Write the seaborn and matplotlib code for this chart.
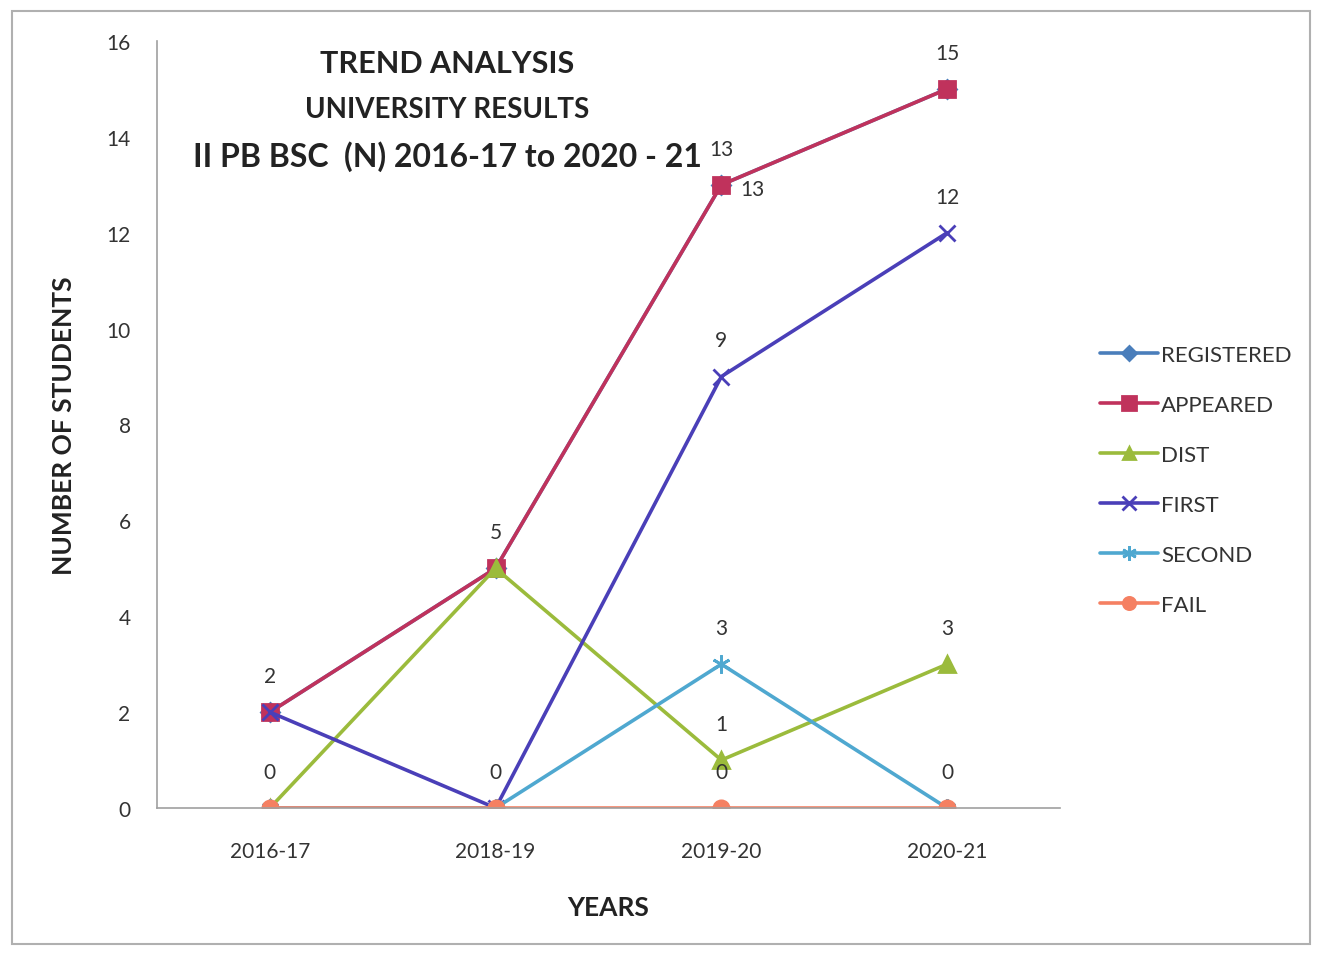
import pandas as pd
import matplotlib.pyplot as plt
import seaborn as sns
from matplotlib.patches import Rectangle

years = ["2016-17", "2018-19", "2019-20", "2020-21"]
series = ["REGISTERED", "APPEARED", "DIST", "FIRST", "SECOND", "FAIL"]
registered = [2, 5, 13, 15]
appeared = [2, 5, 13, 15]
dist = [0, 5, 1, 3]
first = [2, 0, 9, 12]
second = [0, 0, 3, 0]
fail = [0, 0, 0, 0]

# which points carry a data label (by year index)
labelled = {
    "REGISTERED": [0, 1, 2, 3],
    "APPEARED": [2],
    "DIST": [2, 3],
    "FIRST": [2, 3],
    "SECOND": [2],
    "FAIL": [0, 1, 2, 3],
}

values = dict(zip(series, [registered, appeared, dist, first, second, fail]))

colors = {"REGISTERED": "#4a7ebb", "APPEARED": "#c0325c", "DIST": "#9bbb3c",
          "FIRST": "#4a3fb8", "SECOND": "#4fa8d0", "FAIL": "#f58062"}
markers = {"REGISTERED": "D", "APPEARED": "s", "DIST": "^",
           "FIRST": "x", "SECOND": (6, 2, 0), "FAIL": "o"}
msizes = {"REGISTERED": 9, "APPEARED": 12, "DIST": 11,
          "FIRST": 12, "SECOND": 13, "FAIL": 11}

sns.set_style("white")
plt.rcParams['font.family'] = ['Lato', 'DejaVu Sans']

fig = plt.figure(figsize=(13.25, 9.54), dpi=100)
ax = fig.add_axes([157/1325, 1-809/954, (1060-157)/1325, (809-42)/954])

for s in series:
    d = pd.DataFrame({"year": years, "count": values[s]})
    sns.lineplot(data=d, x="year", y="count", color=colors[s], marker=markers[s],
                 markersize=msizes[s], markeredgewidth=2, markeredgecolor=colors[s],
                 linewidth=2.6, sort=False, label=s, ax=ax)

for s in series:
    for i in labelled[s]:
        if s == "APPEARED":
            ax.annotate(str(values[s][i]), (i, values[s][i]), xytext=(22, -3),
                        textcoords="offset points", ha="center", va="center",
                        fontsize=15, color="#333333")
        else:
            ax.annotate(str(values[s][i]), (i, values[s][i]), xytext=(0, 26),
                        textcoords="offset points", ha="center", va="center",
                        fontsize=15, color="#333333")

ax.set_xlim(-0.5, 3.5)
ax.set_ylim(0, 16)
ax.set_yticks(range(0, 17, 2))
ax.set_xticks(range(len(years)))
ax.set_xticklabels(years)
ax.set_xticks([-0.5, 0.5, 1.5, 2.5, 3.5], minor=True)
ax.tick_params(axis="x", which="major", length=0, labelsize=15, pad=24, colors="#333333")
ax.tick_params(axis="x", which="minor", length=4, color="#999999", direction="out")
ax.tick_params(axis="y", length=5, labelsize=15, pad=14, colors="#333333")
ax.tick_params(axis="y", color="#999999")
for side in ["top", "right"]:
    ax.spines[side].set_visible(False)
for side in ["left", "bottom"]:
    ax.spines[side].set_color("#a0a0a0")
    ax.spines[side].set_linewidth(1.2)

ax.set_xlabel("YEARS", fontsize=19, fontweight="bold", color="#222222", labelpad=24)
ax.set_ylabel("NUMBER OF STUDENTS", fontsize=19, fontweight="bold", color="#222222", labelpad=22)

fig.text(447/1325, 1-64/954, "TREND ANALYSIS", ha="center", va="center",
         fontsize=22, fontweight="bold", color="#222222")
fig.text(447/1325, 1-110/954, "UNIVERSITY RESULTS", ha="center", va="center",
         fontsize=20, fontweight="bold", color="#222222")
fig.text(447/1325, 1-157/954, "II PB BSC  (N) 2016-17 to 2020 - 21", ha="center", va="center",
         fontsize=23, fontweight="bold", color="#222222")

leg = ax.legend(loc="center left", bbox_to_anchor=(1.022, 0.428), frameon=False,
                fontsize=16, labelspacing=1.35, handlelength=2.6, handletextpad=0.15,
                markerscale=0.8)
for t in leg.get_texts():
    t.set_color("#333333")

fig.patches.append(Rectangle((12/1325, 1-945/954), (1310-12)/1325, (945-12)/954,
                             transform=fig.transFigure, fill=False,
                             edgecolor="#b0b0b0", linewidth=1.5))

fig.savefig("out.png", dpi=100)
